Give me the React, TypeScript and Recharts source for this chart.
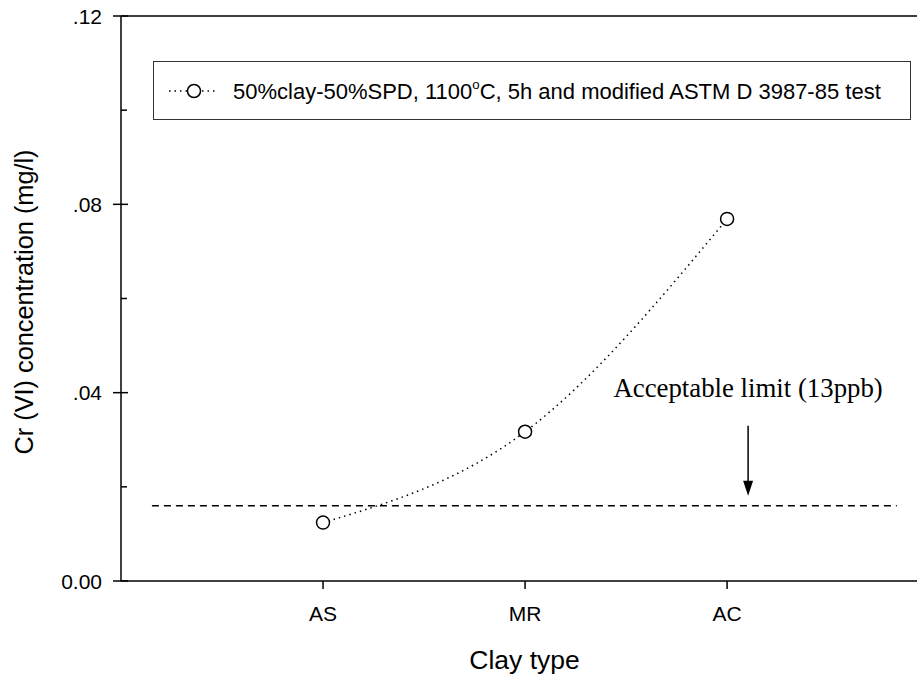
import { LineChart, Line, XAxis, YAxis, ReferenceLine, Legend } from "recharts";

// clay types and their slot on the x axis
const clayTypes = ["AS", "MR", "AC"];
const clayPositions = [1, 2, 3];
// Cr(VI) leached, mg/l
const crConcentration = [0.0124, 0.0317, 0.0769];

const yTicks = [0, 0.02, 0.04, 0.06, 0.08, 0.1, 0.12];
const yTickLabels: Record<string, string> = { "0": "0.00", "0.04": ".04", "0.08": ".08", "0.12": ".12" };

// acceptable limit line + arrow (data coords)
const acceptableLimit = 0.016;
const limitSpan = [0.153, 3.84];
const arrowX = 3.104;
const arrowTop = 0.033;
const arrowTip = 0.0181;

const sans = '"Liberation Sans", Arial, Helvetica, sans-serif';
const serif = '"Liberation Serif", "Times New Roman", serif';

const data = clayTypes.map((name, i) => ({ name, pos: clayPositions[i], cr: crConcentration[i] }));

const TICK_SIZE = 8;
const TICK_MARGIN = 11;

function YTick(props: any) {
  const { x, y, payload } = props;
  const axisX = x + TICK_SIZE + TICK_MARGIN;
  const label = yTickLabels[String(payload.value)];
  if (!label) {
    return <line x1={axisX} x2={axisX + 6} y1={y} y2={y} stroke="#000" strokeWidth={1.5} />;
  }
  return (
    <g>
      <line x1={axisX - 8} x2={axisX + 7} y1={y} y2={y} stroke="#000" strokeWidth={1.5} />
      <text x={x} y={y} dy="0.36em" textAnchor="end" fontFamily={sans} fontSize={21} fill="#000">
        {label}
      </text>
    </g>
  );
}

function LegendBox() {
  return (
    <div
      style={{
        boxSizing: "border-box",
        width: 758,
        height: 59,
        border: "1.5px solid #333",
        background: "#fff",
        display: "flex",
        alignItems: "center",
        fontFamily: sans,
        fontSize: 22,
        color: "#000",
      }}
    >
      <svg width={79} height={20} style={{ flex: "none" }}>
        <line x1={15} x2={62} y1={10} y2={10} stroke="#000" strokeWidth={1.5} strokeDasharray="1.5 4" />
        <circle cx={40} cy={10} r={6.5} fill="#fff" stroke="#000" strokeWidth={1.5} />
      </svg>
      <span style={{ whiteSpace: "nowrap" }}>
        50%clay-50%SPD, 1100<sup style={{ fontSize: "0.6em", verticalAlign: "0.75em" }}>o</sup>C, 5h and modified ASTM D 3987-85 test
      </span>
    </div>
  );
}

function LimitArrow(p: any) {
  const { x1, y1, x2, y2 } = p;
  return (
    <g>
      <text x={x1} y={y1 - 29} textAnchor="middle" fontFamily={serif} fontSize={26.8} fill="#000">
        Acceptable limit (13ppb)
      </text>
      <line x1={x1} y1={y1} x2={x2} y2={y2 - 12} stroke="#000" strokeWidth={1.5} />
      <polygon points={`${x2 - 5},${y2 - 15} ${x2 + 5},${y2 - 15} ${x2},${y2}`} fill="#000" />
    </g>
  );
}

export default function App() {
  return (
    <div style={{ position: "absolute", left: 0, top: 0, width: 917, height: 675, background: "#fff" }}>
      <LineChart width={917} height={675} data={data} margin={{ top: 16, right: 0, bottom: 0, left: 0 }}>
        <XAxis
          dataKey="pos"
          type="number"
          domain={[0, 3.94]}
          ticks={clayPositions}
          tickFormatter={(v) => clayTypes[clayPositions.indexOf(v)]}
          allowDataOverflow
          height={94}
          stroke="#000"
          strokeWidth={1.5}
          tickSize={8}
          tickMargin={17}
          tick={{ fontSize: 21, fill: "#000", fontFamily: sans }}
          label={() => (
            <text x={524.5} y={669} textAnchor="middle" fontFamily={sans} fontSize={26.5} fill="#000">
              Clay type
            </text>
          )}
        />
        <YAxis
          type="number"
          domain={[0, 0.12]}
          ticks={yTicks}
          interval={0}
          width={121}
          stroke="#000"
          strokeWidth={1.5}
          tickLine={false}
          tickSize={TICK_SIZE}
          tickMargin={TICK_MARGIN}
          tick={<YTick />}
          label={() => (
            <text
              x={33}
              y={302}
              transform="rotate(-90 33 302)"
              textAnchor="middle"
              fontFamily={sans}
              fontSize={25.3}
              fill="#000"
            >
              Cr (VI) concentration (mg/l)
            </text>
          )}
        />
        <ReferenceLine y={0.12} stroke="#000" strokeWidth={1.5} />
        <ReferenceLine
          segment={[
            { x: limitSpan[0], y: acceptableLimit },
            { x: limitSpan[1], y: acceptableLimit },
          ]}
          stroke="#000"
          strokeWidth={1.5}
          strokeDasharray="7 5"
        />
        <ReferenceLine
          segment={[
            { x: arrowX, y: arrowTop },
            { x: arrowX, y: arrowTip },
          ]}
          shape={LimitArrow}
        />
        <Legend
          layout="horizontal"
          verticalAlign="middle"
          align="center"
          wrapperStyle={{ position: "absolute", left: 153, top: 61, width: 758, height: 59 }}
          content={() => <LegendBox />}
        />
        <Line
          type="natural"
          dataKey="cr"
          stroke="#000"
          strokeWidth={1.5}
          strokeDasharray="1.5 4"
          dot={{ r: 6.5, fill: "#fff", stroke: "#000", strokeWidth: 1.5, strokeDasharray: "none" }}
          activeDot={false}
          isAnimationActive={false}
        />
      </LineChart>
    </div>
  );
}
